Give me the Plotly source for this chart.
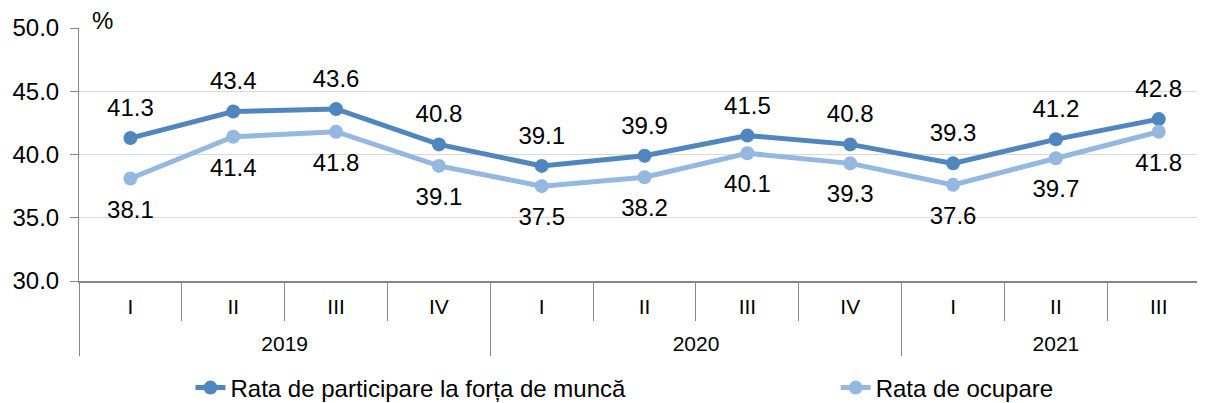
import plotly.graph_objects as go

# Quarterly labour force indicators, %
years = ['2019'] * 4 + ['2020'] * 4 + ['2021'] * 3
quarters = ['I', 'II', 'III', 'IV', 'I', 'II', 'III', 'IV', 'I', 'II', 'III']
participation = [41.3, 43.4, 43.6, 40.8, 39.1, 39.9, 41.5, 40.8, 39.3, 41.2, 42.8]
employment = [38.1, 41.4, 41.8, 39.1, 37.5, 38.2, 40.1, 39.3, 37.6, 39.7, 41.8]

font_family = 'Liberation Sans, Arial, sans-serif'
dark_blue = '#4f86bd'
light_blue = '#95b8e0'

# extra (raised) blank line under the quarter labels pushes the year row down
quarter_labels = [q + '<br><sup>\u00a0</sup>' for q in quarters]

fig = go.Figure()


def add_series(values, name, color, legend, textpos, gap):
    fig.add_trace(go.Scatter(
        x=[years, quarter_labels], y=values, name=name, legend=legend,
        mode='lines+markers',
        line=dict(color=color, width=5),
        marker=dict(size=14, color=color),
    ))
    # invisible big markers only to push the value labels away from the line
    fig.add_trace(go.Scatter(
        x=[years, quarter_labels], y=values, showlegend=False, hoverinfo='skip',
        mode='markers+text',
        marker=dict(size=gap, color='rgba(0,0,0,0)'),
        text=[f'{v:.1f}' for v in values],
        textposition=textpos,
        textfont=dict(size=24, color='#000000'),
    ))


add_series(participation, 'Rata de participare la forța de muncă', dark_blue,
           'legend', 'top center', 24)
add_series(employment, 'Rata de ocupare', light_blue,
           'legend2', 'bottom center', 32)

# page body has an 8px margin, so the figure is a bit smaller than the window
legend_style = dict(orientation='h', yanchor='middle', xanchor='left',
                    font=dict(size=24), itemclick=False, bgcolor='rgba(0,0,0,0)')
fig.update_layout(
    width=1197, height=395,
    margin=dict(l=71, r=0, t=20, b=122, autoexpand=False),
    paper_bgcolor='white', plot_bgcolor='white',
    font=dict(family=font_family, size=24, color='#000000'),
    showlegend=True,
    legend=dict(legend_style, x=0.099, y=-0.423),
    legend2=dict(legend_style, x=0.672, y=-0.423),
)
fig.update_yaxes(
    range=[30, 50], dtick=5, tickformat='.1f',
    showgrid=True, gridcolor='#d9d9d9', gridwidth=1,
    showline=True, linecolor='#868686', linewidth=1,
    ticks='outside', ticklen=8, tickcolor='#868686',
    ticklabelstandoff=6,
    tickfont=dict(size=24), zeroline=False,
)
fig.update_xaxes(
    range=[-0.5, 10.45],
    showline=True, linecolor='#868686', linewidth=2,
    ticks='outside', ticklen=38, tickcolor='#868686',
    ticklabelstandoff=6,
    showdividers=True, dividercolor='#868686', dividerwidth=1,
    tickfont=dict(size=21), showgrid=False,
)

fig.add_annotation(
    text='%', xref='paper', x=0.01, xanchor='left',
    yref='y', y=50, yanchor='middle', yshift=8,
    showarrow=False, font=dict(size=24),
)

fig.write_html('out.html')
